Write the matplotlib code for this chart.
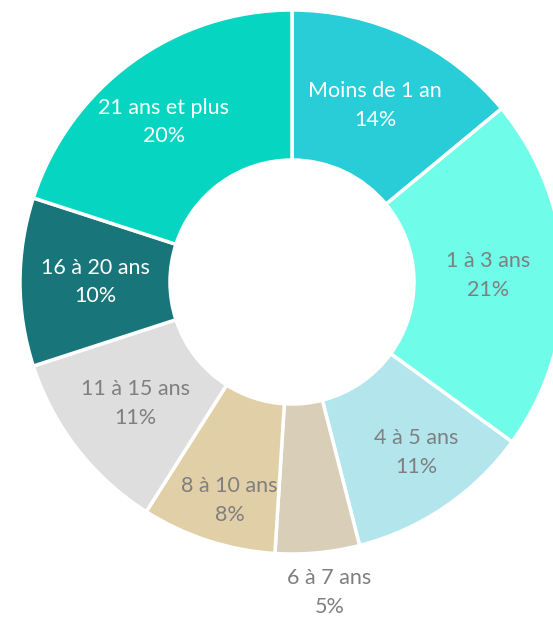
import numpy as np
import matplotlib.pyplot as plt

labels = ["Moins de 1 an", "1 à 3 ans", "4 à 5 ans", "6 à 7 ans",
          "8 à 10 ans", "11 à 15 ans", "16 à 20 ans", "21 ans et plus"]
values = [14, 21, 11, 5, 8, 11, 10, 20]
colors = ["#29CDD7", "#6FFCE9", "#B3E6EC", "#D9CFB9",
          "#E1CFA8", "#DEDEDE", "#18767B", "#06D6C1"]
text_colors = ["white", "#7F7F7F", "#7F7F7F", "#7F7F7F",
               "#7F7F7F", "#7F7F7F", "white", "white"]

# label placement: radius (px) and angle nudge (deg) per slice
label_r = [195, 196, 211, 313, 227, 198, 197, 205]
label_dtheta = [0, 0, 2, 1.5, 2, 0, 0, 2.7]

plt.rcParams['font.family'] = ['Lato', 'DejaVu Sans']

fig = plt.figure(figsize=(5.53, 6.17), dpi=100)
ax = fig.add_axes([0, 0, 1, 1])

cx, cy, R = 292, 335, 272
inner = 122
wedges, _ = ax.pie(values, colors=colors, startangle=90, counterclock=False,
                   center=(cx, cy), radius=R, frame=True,
                   wedgeprops=dict(width=R - inner, edgecolor='white', linewidth=2.5))
ax.set_xlim(0, 553)
ax.set_ylim(0, 617)
ax.set_aspect('equal')
ax.axis('off')

for w, lab, v, tc, r, dt in zip(wedges, labels, values, text_colors, label_r, label_dtheta):
    mid = np.deg2rad((w.theta1 + w.theta2) / 2 + dt)
    x = cx + r * np.cos(mid)
    y = cy + r * np.sin(mid)
    ax.text(x, y, f"{lab}\n{v}%", ha='center', va='center', color=tc,
            fontsize=15.5, linespacing=1.55)

fig.savefig("out.png", dpi=100)
